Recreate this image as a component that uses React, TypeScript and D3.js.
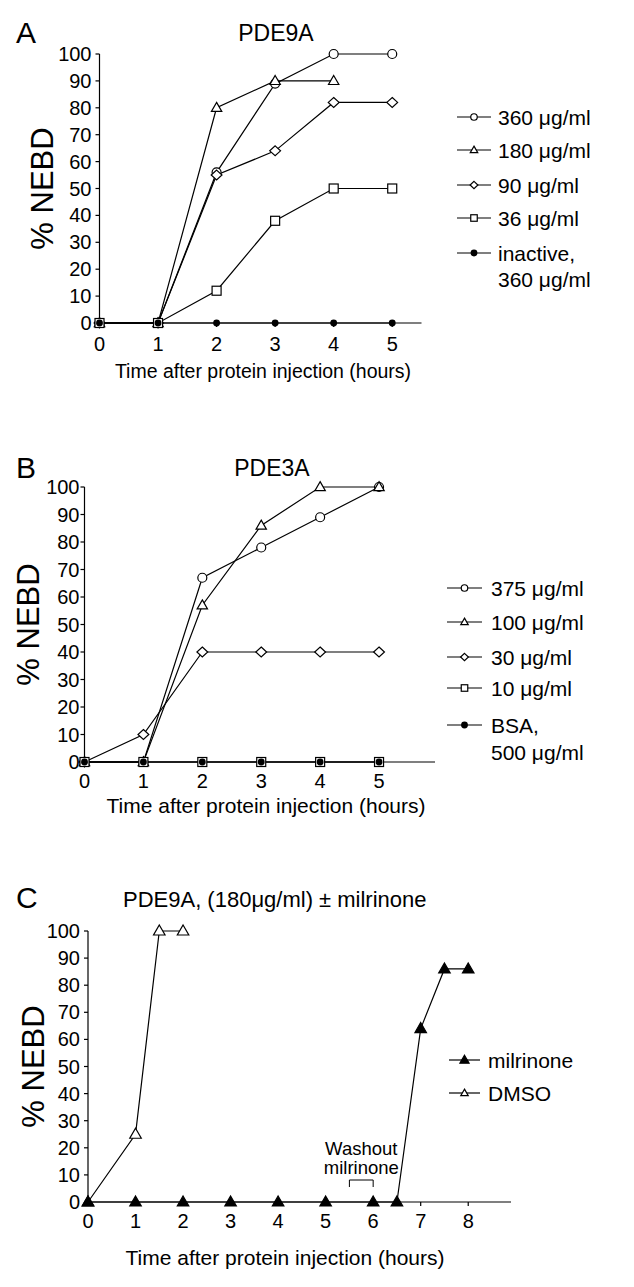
import React from "react";
import * as d3 from "d3";

// ---------- DATA ----------
const yTicks = [0, 10, 20, 30, 40, 50, 60, 70, 80, 90, 100];

// Panel A: PDE9A
const hoursA = [0, 1, 2, 3, 4, 5];
const hoursA180 = [0, 1, 2, 3, 4];
const a360 = [0, 0, 56, 89, 100, 100];
const a180 = [0, 0, 80, 90, 90];
const a90 = [0, 0, 55, 64, 82, 82];
const a36 = [0, 0, 12, 38, 50, 50];
const aInactive = [0, 0, 0, 0, 0, 0];
const xTicksA = [0, 1, 2, 3, 4, 5];
const legendA = ["360 μg/ml", "180 μg/ml", "90 μg/ml", "36 μg/ml", "inactive,", "360 μg/ml"];

// Panel B: PDE3A
const hoursB = [0, 1, 2, 3, 4, 5];
const b375 = [0, 0, 67, 78, 89, 100];
const b100 = [0, 0, 57, 86, 100, 100];
const b30 = [0, 10, 40, 40, 40, 40];
const b10 = [0, 0, 0, 0, 0, 0];
const bBSA = [0, 0, 0, 0, 0, 0];
const xTicksB = [0, 1, 2, 3, 4, 5];
const legendB = ["375 μg/ml", "100 μg/ml", "30 μg/ml", "10 μg/ml", "BSA,", "500 μg/ml"];

// Panel C: PDE9A ± milrinone
const hoursMil = [0, 1, 2, 3, 4, 5, 6, 6.5, 7, 7.5, 8];
const milrinone = [0, 0, 0, 0, 0, 0, 0, 0, 64, 86, 86];
const hoursDMSO = [0, 1, 1.5, 2];
const dmso = [0, 25, 100, 100];
const xTicksC = [0, 1, 2, 3, 4, 5, 6, 7, 8];
const legendC = ["milrinone", "DMSO"];
const washout = [5.5, 6];

const FONT = "'Liberation Sans', Arial, Helvetica, sans-serif";

type Shape = "circle" | "triangle" | "diamond" | "square" | "dot" | "ftriangle";

function Marker({ shape, x, y, s }: { shape: Shape; x: number; y: number; s: number }) {
  const sw = 1.2;
  switch (shape) {
    case "circle":
      return <circle cx={x} cy={y} r={s / 2} fill="white" stroke="black" strokeWidth={sw} />;
    case "dot":
      return <circle cx={x} cy={y} r={s * 0.38} fill="black" stroke="none" />;
    case "square":
      return <rect x={x - s / 2} y={y - s / 2} width={s} height={s} fill="white" stroke="black" strokeWidth={sw} />;
    case "diamond": {
      const h = s * 0.55;
      const w = s * 0.6;
      return <path d={`M${x},${y - h}L${x + w},${y}L${x},${y + h}L${x - w},${y}Z`} fill="white" stroke="black" strokeWidth={sw} />;
    }
    case "triangle":
    case "ftriangle": {
      const w = s * 1.15;
      const h = s;
      return (
        <path
          d={`M${x},${y - h * 0.6}L${x + w / 2},${y + h * 0.4}L${x - w / 2},${y + h * 0.4}Z`}
          fill={shape === "ftriangle" ? "black" : "white"}
          stroke="black"
          strokeWidth={sw}
          strokeLinejoin="miter"
        />
      );
    }
  }
  return null;
}

interface Series {
  xs: number[];
  ys: number[];
  shape: Shape;
}

interface PanelProps {
  letter: string;
  letterY: number;
  title: string;
  titleX: number;
  titleY: number;
  titleAnchor: "middle" | "start";
  titleSize: number;
  xRange: [number, number];
  xMax: number;
  yRange: [number, number];
  xTicks: number[];
  series: Series[];
  yLabelX: number;
  xLabelX: number;
  xLabelY: number;
  xLabelSize: number;
  tickSize: number;
  yTickGap: number;
  xTickDy: number;
  legend: { labels: string[]; shapes: (Shape | null)[]; ys: number[]; lineX: [number, number]; textX: number };
  markerSize: number;
  children?: React.ReactNode;
}

function Panel(p: PanelProps) {
  const x = d3.scaleLinear().domain([0, p.xMax]).range(p.xRange);
  const y = d3.scaleLinear().domain([0, 100]).range(p.yRange);
  const line = d3
    .line<[number, number]>()
    .x((d) => x(d[0]))
    .y((d) => y(d[1]));
  const x0 = x(0);
  const y0 = y(0);
  const yMid = (y(0) + y(100)) / 2;
  return (
    <g fontFamily={FONT} fill="black">
      <text x={16} y={p.letterY} fontSize={30} dominantBaseline="central">
        {p.letter}
      </text>
      <text x={p.titleX} y={p.titleY} fontSize={p.titleSize} textAnchor={p.titleAnchor} dominantBaseline="central">
        {p.title}
      </text>
      {/* axes */}
      <line x1={x0} x2={x0} y1={y(0)} y2={y(100)} stroke="black" strokeWidth={1.2} />
      <line x1={x0} x2={x(p.xMax)} y1={y0} y2={y0} stroke="black" strokeWidth={1.2} />
      {yTicks.map((t) => (
        <g key={"yt" + t}>
          <line x1={x0 - 4} x2={x0} y1={y(t)} y2={y(t)} stroke="black" strokeWidth={1.2} />
          <text x={x0 - p.yTickGap} y={y(t)} fontSize={p.tickSize} textAnchor="end" dominantBaseline="central">
            {t}
          </text>
        </g>
      ))}
      {p.xTicks.map((t) => (
        <g key={"xt" + t}>
          <line x1={x(t)} x2={x(t)} y1={y0} y2={y0 + 4} stroke="black" strokeWidth={1.2} />
          <text x={x(t)} y={y0 + p.xTickDy} fontSize={p.tickSize} textAnchor="middle" dominantBaseline="central">
            {t}
          </text>
        </g>
      ))}
      <text
        transform={`translate(${p.yLabelX},${yMid}) rotate(-90)`}
        fontSize={31}
        textAnchor="middle"
        dominantBaseline="central"
      >
        % NEBD
      </text>
      <text x={p.xLabelX} y={p.xLabelY} fontSize={p.xLabelSize} textAnchor="middle" dominantBaseline="central">
        Time after protein injection (hours)
      </text>
      {/* series lines */}
      {p.series.map((s, i) => (
        <path
          key={"l" + i}
          d={line(s.xs.map((v, j) => [v, s.ys[j]] as [number, number])) || ""}
          fill="none"
          stroke="black"
          strokeWidth={1.2}
        />
      ))}
      {/* markers */}
      {p.series.map((s, i) =>
        s.xs.map((v, j) => <Marker key={"m" + i + "-" + j} shape={s.shape} x={x(v)} y={y(s.ys[j])} s={p.markerSize} />)
      )}
      {/* legend */}
      {p.legend.labels.map((lab, i) => {
        const sh = p.legend.shapes[i];
        const ly = p.legend.ys[i];
        const cx = (p.legend.lineX[0] + p.legend.lineX[1]) / 2;
        return (
          <g key={"lg" + i}>
            {sh && (
              <>
                <line x1={p.legend.lineX[0]} x2={p.legend.lineX[1]} y1={ly} y2={ly} stroke="black" strokeWidth={1.2} />
                <Marker shape={sh} x={cx} y={ly} s={sh === "dot" ? 9 : sh === "ftriangle" ? 8 : 6.5} />
              </>
            )}
            <text x={p.legend.textX} y={ly} fontSize={21} dominantBaseline="central">
              {lab}
            </text>
          </g>
        );
      })}
      {p.children}
    </g>
  );
}

export default function App() {
  const xC = d3.scaleLinear().domain([0, 8.9]).range([88, 511]);
  const yC = d3.scaleLinear().domain([0, 100]).range([1202, 931]);
  return (
    <svg
      width={634}
      height={1287}
      viewBox="0 0 634 1287"
      style={{ position: "absolute", left: 0, top: 0, background: "white" }}
    >
      <rect width={634} height={1287} fill="white" />
      <Panel
        letter="A"
        letterY={32}
        title="PDE9A"
        titleX={276}
        titleY={33}
        titleAnchor="middle"
        titleSize={23}
        xRange={[99.5, 421.5]}
        xMax={5.5}
        yRange={[323, 54]}
        xTicks={xTicksA}
        series={[
          { xs: hoursA, ys: a360, shape: "circle" },
          { xs: hoursA180, ys: a180, shape: "triangle" },
          { xs: hoursA, ys: a90, shape: "diamond" },
          { xs: hoursA, ys: a36, shape: "square" },
          { xs: hoursA, ys: aInactive, shape: "dot" },
        ]}
        yLabelX={42}
        xLabelX={263}
        xLabelY={371}
        xLabelSize={19.5}
        tickSize={20}
        yTickGap={8}
        xTickDy={21}
        markerSize={9}
        legend={{
          labels: legendA,
          shapes: ["circle", "triangle", "diamond", "square", "dot", null],
          ys: [117, 150, 185, 218, 253, 279],
          lineX: [457, 491],
          textX: 498,
        }}
      />
      <Panel
        letter="B"
        letterY={467}
        title="PDE3A"
        titleX={272}
        titleY={468}
        titleAnchor="middle"
        titleSize={23}
        xRange={[84.5, 435]}
        xMax={5.95}
        yRange={[762, 487]}
        xTicks={xTicksB}
        series={[
          { xs: hoursB, ys: b375, shape: "circle" },
          { xs: hoursB, ys: b100, shape: "triangle" },
          { xs: hoursB, ys: b30, shape: "diamond" },
          { xs: hoursB, ys: b10, shape: "square" },
          { xs: hoursB, ys: bBSA, shape: "dot" },
        ]}
        yLabelX={28}
        xLabelX={266}
        xLabelY={805}
        xLabelSize={21}
        tickSize={20}
        yTickGap={5}
        xTickDy={19}
        markerSize={9}
        legend={{
          labels: legendB,
          shapes: ["circle", "triangle", "diamond", "square", "dot", null],
          ys: [588, 622, 657, 688, 725, 752],
          lineX: [447, 482],
          textX: 491,
        }}
      />
      <Panel
        letter="C"
        letterY={897}
        title="PDE9A, (180μg/ml) ± milrinone"
        titleX={123}
        titleY={899}
        titleAnchor="start"
        titleSize={22}
        xRange={[88, 511]}
        xMax={8.9}
        yRange={[1202, 931]}
        xTicks={xTicksC}
        series={[
          { xs: hoursDMSO, ys: dmso, shape: "triangle" },
          { xs: hoursMil, ys: milrinone, shape: "ftriangle" },
        ]}
        yLabelX={33}
        xLabelX={285}
        xLabelY={1257}
        xLabelSize={21}
        tickSize={20}
        yTickGap={8}
        xTickDy={19}
        markerSize={10}
        legend={{
          labels: legendC,
          shapes: ["ftriangle", "triangle"],
          ys: [1060, 1093],
          lineX: [449, 480],
          textX: 488,
        }}
      >
        <g fontFamily={FONT}>
          <path
            d={`M${xC(washout[0])},${1187}V${1180}H${xC(washout[1])}V${1187}`}
            fill="none"
            stroke="black"
            strokeWidth={1}
          />
          <text x={(xC(washout[0]) + xC(washout[1])) / 2} y={1155} fontSize={18.5} textAnchor="middle">
            Washout
          </text>
          <text x={(xC(washout[0]) + xC(washout[1])) / 2} y={1174} fontSize={18.5} textAnchor="middle">
            milrinone
          </text>
        </g>
      </Panel>
    </svg>
  );
}
